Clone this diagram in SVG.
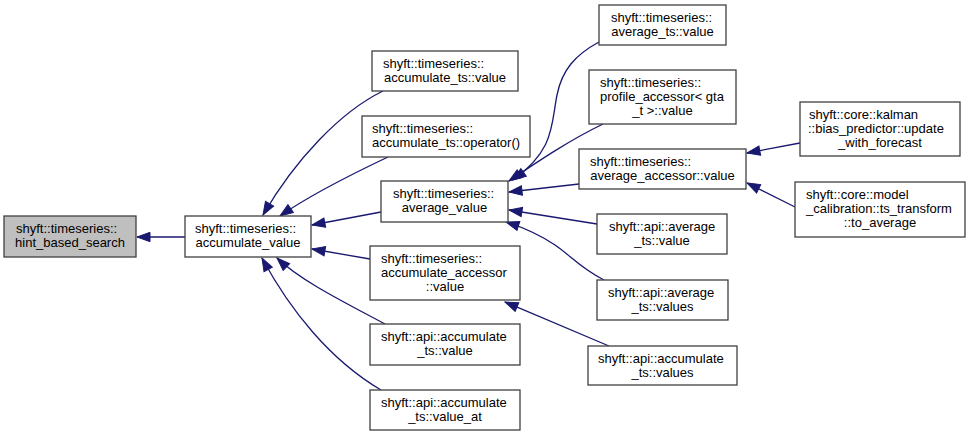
<svg xmlns="http://www.w3.org/2000/svg" width="971" height="436" viewBox="0 0 971 436">
<style>
.n rect{fill:#ffffff;stroke:#404040;stroke-width:1.3}
.n.g rect{fill:#bfbfbf}
.n text{font-family:"Liberation Sans",Arial,sans-serif;font-size:13px;fill:#000}
.c{text-anchor:middle}
.e path{fill:none;stroke:#191970;stroke-width:1.3;marker-end:url(#ah)}
</style>
<defs>
<marker id="ah" markerUnits="userSpaceOnUse" markerWidth="15" markerHeight="11" refX="13" refY="4.7" orient="auto" overflow="visible">
<path d="M0,0 L13,4.7 L0,9.4 z" fill="#191970" stroke="#191970" stroke-width="1"/>
</marker>
</defs>
<rect width="971" height="436" fill="#ffffff"/>
<g id="edges" class="e">
<path d="M185,237 L137,237"/>
<path d="M383,91 C340,112 295,160 263,215"/>
<path d="M388,157 C350,175 310,195 280,216"/>
<path d="M381,212 L312,225"/>
<path d="M370,259 L312,249"/>
<path d="M385,324 C340,300 300,280 277,258"/>
<path d="M381,390 C330,360 290,310 262,258"/>
<path d="M599,42 C575,55 562,70 557,95 C551,125 555,150 513,180"/>
<path d="M603,124 C570,140 540,160 509,181"/>
<path d="M579,184 L509,192"/>
<path d="M597,224 L509,210"/>
<path d="M604,280 C580,268 570,255 555,245 C540,235 525,228 506,222"/>
<path d="M609,346 L505,302"/>
<path d="M800,143 L747,153"/>
<path d="M795,207 L747,183"/>
</g>
<g id="hint_based_search" class="n g"><rect x="4" y="216" width="132" height="41"/><text x="16" y="233">shyft::timeseries::</text><text class="c" x="70" y="247">hint_based_search</text></g>
<g id="accumulate_value" class="n"><rect x="185" y="216" width="126" height="41"/><text x="195" y="233">shyft::timeseries::</text><text class="c" x="248" y="247">accumulate_value</text></g>
<g id="accumulate_ts_value" class="n"><rect x="372" y="51" width="146" height="40"/><text x="383" y="68">shyft::timeseries::</text><text class="c" x="445" y="82">accumulate_ts::value</text></g>
<g id="accumulate_ts_operator" class="n"><rect x="362" y="116" width="168" height="41"/><text x="372" y="133">shyft::timeseries::</text><text class="c" x="446" y="147">accumulate_ts::operator()</text></g>
<g id="average_value" class="n"><rect x="381" y="181" width="127" height="41"/><text x="393" y="198">shyft::timeseries::</text><text class="c" x="444.5" y="212">average_value</text></g>
<g id="accumulate_accessor_value" class="n"><rect x="370" y="246" width="150" height="54"/><text x="381" y="262.5">shyft::timeseries::</text><text x="381" y="276.5">accumulate_accessor</text><text class="c" x="445" y="290.5">::value</text></g>
<g id="api_accumulate_ts_value" class="n"><rect x="370" y="324" width="150" height="41"/><text x="381" y="341">shyft::api::accumulate</text><text class="c" x="445" y="355">_ts::value</text></g>
<g id="api_accumulate_ts_value_at" class="n"><rect x="370" y="390" width="150" height="40"/><text x="381" y="407">shyft::api::accumulate</text><text class="c" x="445" y="421">_ts::value_at</text></g>
<g id="average_ts_value" class="n"><rect x="599" y="5" width="127" height="40"/><text x="611" y="22">shyft::timeseries::</text><text class="c" x="662.5" y="36">average_ts::value</text></g>
<g id="profile_accessor_value" class="n"><rect x="589" y="70" width="147" height="54"/><text x="600" y="86.5">shyft::timeseries::</text><text x="600" y="100.5">profile_accessor&lt; gta</text><text class="c" x="662.5" y="114.5">_t &gt;::value</text></g>
<g id="average_accessor_value" class="n"><rect x="579" y="149" width="167" height="40"/><text x="590" y="166">shyft::timeseries::</text><text class="c" x="662.5" y="180">average_accessor::value</text></g>
<g id="api_average_ts_value" class="n"><rect x="597" y="214" width="130" height="40"/><text x="609" y="231">shyft::api::average</text><text class="c" x="662" y="245">_ts::value</text></g>
<g id="api_average_ts_values" class="n"><rect x="597" y="280" width="131" height="40"/><text x="608" y="297">shyft::api::average</text><text class="c" x="662.5" y="311">_ts::values</text></g>
<g id="api_accumulate_ts_values" class="n"><rect x="588" y="346" width="149" height="39"/><text x="598" y="362.5">shyft::api::accumulate</text><text class="c" x="662.5" y="376.5">_ts::values</text></g>
<g id="kalman_update_with_forecast" class="n"><rect x="800" y="102" width="160" height="54"/><text x="809" y="118.5">shyft::core::kalman</text><text x="808" y="132.5">::bias_predictor::update</text><text class="c" x="880" y="146.5">_with_forecast</text></g>
<g id="model_calibration_to_average" class="n"><rect x="795" y="182" width="170" height="55"/><text x="806" y="198.5">shyft::core::model</text><text x="806" y="212.5">_calibration::ts_transform</text><text class="c" x="880" y="226.5">::to_average</text></g>
</svg>
